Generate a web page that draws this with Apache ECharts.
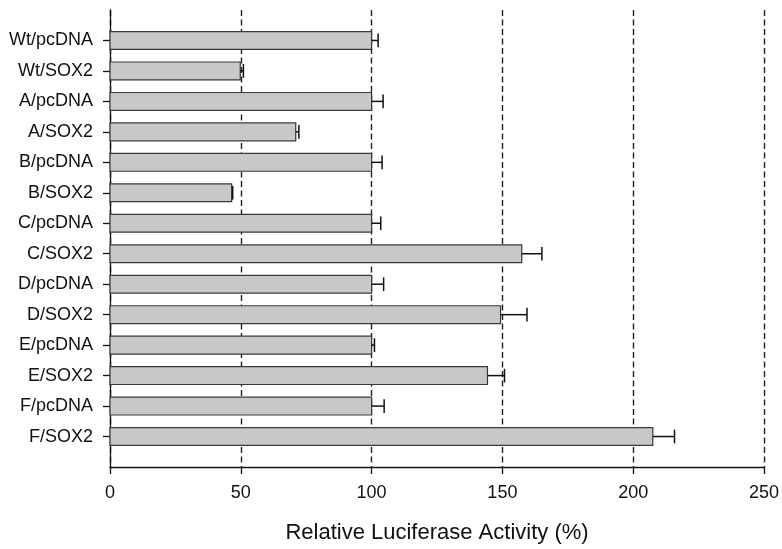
<!DOCTYPE html>
<html>
<head>
<meta charset="utf-8">
<script src="https://cdn.jsdelivr.net/npm/echarts@6/dist/echarts.min.js"></script>
<style>
  html, body { margin: 0; padding: 0; background: #fff; }
  #chart { width: 782px; height: 549px; }
</style>
</head>
<body>
<div id="chart"></div>
<script>
// Constructs, top to bottom
const categories = [
  'Wt/pcDNA', 'Wt/SOX2', 'A/pcDNA', 'A/SOX2', 'B/pcDNA', 'B/SOX2', 'C/pcDNA',
  'C/SOX2', 'D/pcDNA', 'D/SOX2', 'E/pcDNA', 'E/SOX2', 'F/pcDNA', 'F/SOX2'
];
// Mean relative luciferase activity (%)
const activity = [100, 49.8, 100, 71.0, 100, 46.5, 100, 157.4, 100, 149.3, 100, 144.3, 100, 207.5];
// Standard error (drawn on the right side only)
const errors = [2.5, 1.2, 4.4, 1.2, 4.0, 0.4, 3.5, 7.7, 4.6, 10.1, 1.1, 6.5, 4.8, 8.3];
const xTicks = [0, 50, 100, 150, 200, 250];

const FONT = '"Liberation Sans", Arial, sans-serif';
const rows = categories.map((c, i) => [i, activity[i], errors[i]]);
const rowIdx = categories.map((c, i) => i);

const chart = echarts.init(document.getElementById('chart'), null, { renderer: 'canvas' });

chart.setOption({
  animation: false,
  backgroundColor: '#ffffff',
  grid: { left: 110, right: 15, top: 10, bottom: 79 },
  xAxis: {
    type: 'value',
    min: xTicks[0],
    max: xTicks[xTicks.length - 1],
    interval: 50,
    name: 'Relative Luciferase Activity (%)',
    nameLocation: 'middle',
    nameGap: 55,
    nameTextStyle: { fontFamily: FONT, fontSize: 22, color: '#111' },
    axisLine: { onZero: false, lineStyle: { color: '#111', width: 1.3 } },
    axisTick: { show: true, length: 7, lineStyle: { color: '#111', width: 1.3 } },
    axisLabel: { fontFamily: FONT, fontSize: 18, color: '#111', margin: 17 },
    splitLine: {
      show: true,
      lineStyle: { color: '#222', width: 1.4, type: [6, 3.5] }
    }
  },
  yAxis: {
    type: 'value',
    inverse: true,
    min: -1,
    max: categories.length,
    interval: 1,
    axisLine: { show: true, onZero: false, lineStyle: { color: '#111', width: 1.3 } },
    axisTick: { show: true, length: 7, customValues: rowIdx, lineStyle: { color: '#111', width: 1.3 } },
    axisLabel: {
      customValues: rowIdx,
      fontFamily: FONT, fontSize: 18, color: '#111', margin: 17,
      formatter: v => categories[v] || ''
    },
    splitLine: { show: false }
  },
  series: [
    {
      // Bars
      type: 'custom',
      data: rows,
      encode: { x: 1, y: 0 },
      renderItem: (params, api) => {
        const idx = api.value(0);
        const val = api.value(1);
        const start = api.coord([0, idx]);
        const end = api.coord([val, idx]);
        const h = api.size([0, 1])[1] * 0.585;
        return {
          type: 'rect',
          shape: { x: start[0], y: start[1] - h / 2, width: end[0] - start[0], height: h },
          style: { fill: '#c8c8c8', stroke: '#3a3a3a', lineWidth: 1.2 }
        };
      },
      z: 3
    },
    {
      // Error bars
      type: 'custom',
      data: rows,
      encode: { x: 1, y: 0 },
      renderItem: (params, api) => {
        const idx = api.value(0);
        const val = api.value(1);
        const err = api.value(2);
        const a = api.coord([val, idx]);
        const b = api.coord([val + err, idx]);
        const cap = api.size([0, 1])[1] * 0.45;
        const style = { stroke: '#111', lineWidth: 1.5 };
        return {
          type: 'group',
          children: [
            { type: 'line', shape: { x1: a[0], y1: a[1], x2: b[0], y2: b[1] }, style },
            { type: 'line', shape: { x1: b[0], y1: b[1] - cap / 2, x2: b[0], y2: b[1] + cap / 2 }, style }
          ]
        };
      },
      z: 4
    }
  ]
});
</script>
</body>
</html>
